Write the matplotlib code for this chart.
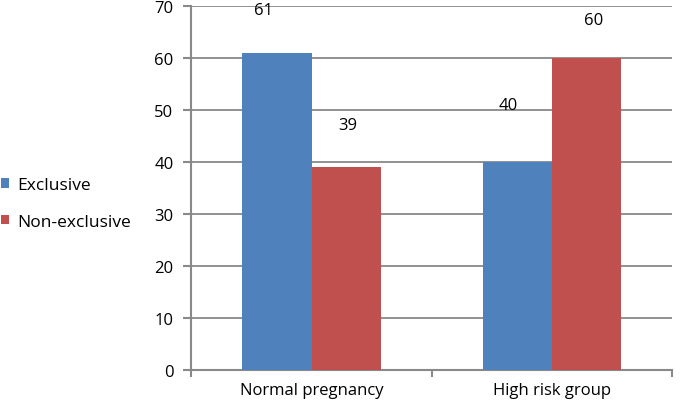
import matplotlib
matplotlib.use('Agg')
import matplotlib.pyplot as plt
import numpy as np

categories = ['Normal pregnancy', 'High risk group']
exclusive = [61, 40]
non_exclusive = [39, 60]
series_names = ['Exclusive', 'Non-exclusive']
yticks = [0, 10, 20, 30, 40, 50, 60, 70]

plt.rcParams['font.family'] = ['Open Sans', 'DejaVu Sans']
blue, red, grey = '#4F81BD', '#C0504D', '#898989'

fig = plt.figure(figsize=(6.85, 4.06), dpi=100)
ax = fig.add_axes([0.2795, 0.087, 0.702, 0.896])

x = np.arange(len(categories))
w = 0.288
b1 = ax.bar(x - w/2, exclusive, w, color=blue, label=series_names[0], zorder=3)
b2 = ax.bar(x + w/2, non_exclusive, w, color=red, label=series_names[1], zorder=3)

# value labels float well above the bars, as in the original (offsets in points)
offs1 = [(-10, 31), (-7, 41)]
offs2 = [(1, 30), (5, 27)]
for bars, offs in ((b1, offs1), (b2, offs2)):
    for r, (dx, dy) in zip(bars, offs):
        ax.annotate(str(int(r.get_height())), (r.get_x() + r.get_width()/2, r.get_height()),
                    xytext=(dx, dy), textcoords='offset points', ha='center', va='center',
                    fontsize=12, color='black', zorder=4)

ax.set_xlim(-0.5, 1.5)
ax.set_ylim(0, 70)
ax.set_yticks(yticks)
ax.set_xticks(x)
ax.set_xticklabels(categories, fontsize=12)
ax.tick_params(axis='x', length=0, pad=9)
ax.set_xticks([-0.5, 0.5, 1.5], minor=True)
ax.tick_params(axis='x', which='minor', length=5, width=1.5, color=grey, direction='out')
ax.tick_params(axis='y', length=6, width=1.5, color=grey, labelsize=12, pad=7)
ax.yaxis.grid(True, color=grey, linewidth=1.3, zorder=0)
for s in ['top', 'right']:
    ax.spines[s].set_visible(False)
for s in ['left', 'bottom']:
    ax.spines[s].set_color(grey)
    ax.spines[s].set_linewidth(1.5)

fig.legend(handles=[b1, b2], loc='center left', bbox_to_anchor=(-0.022, 0.497),
           frameon=False, fontsize=12.5, handlelength=0.5, handleheight=0.5,
           handletextpad=0.45, labelspacing=1.2)

plt.savefig('out.png', dpi=100)
